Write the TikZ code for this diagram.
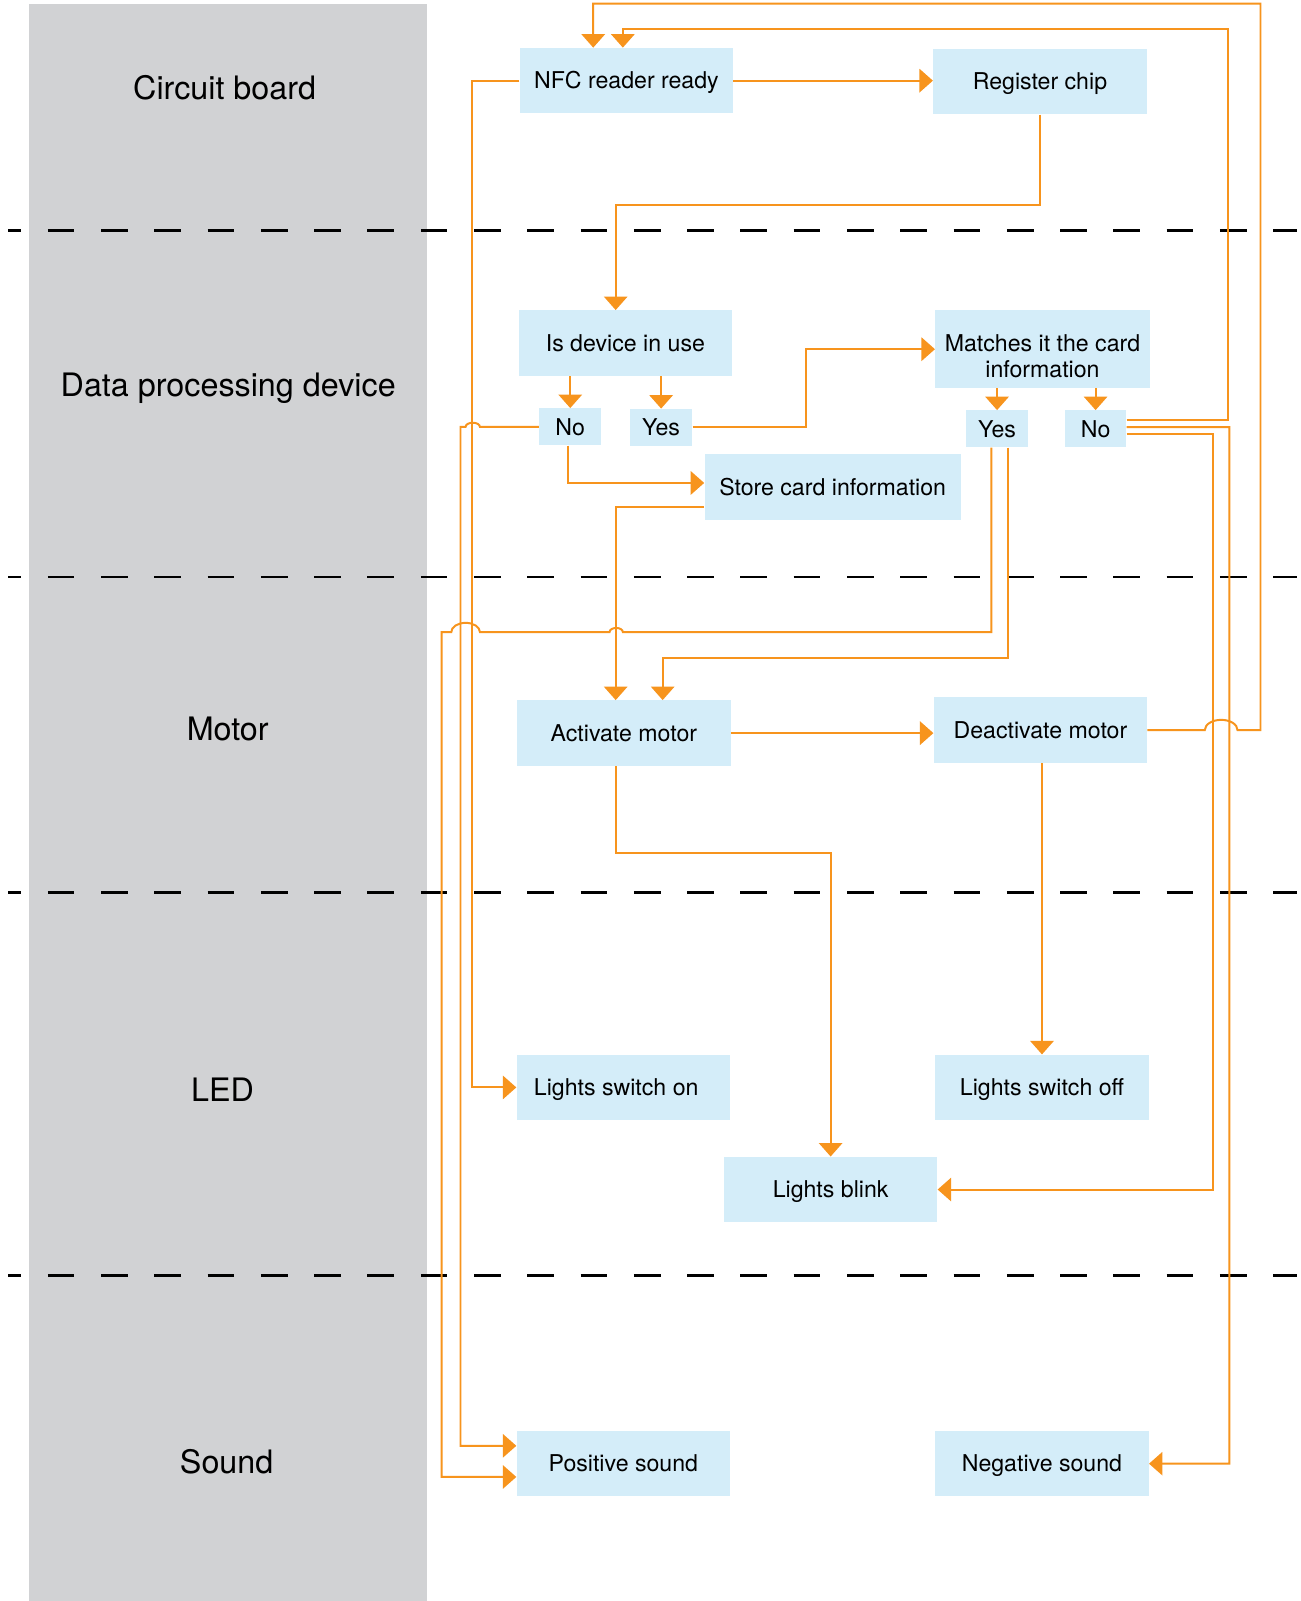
\documentclass[tikz,border=0pt]{standalone}
\usepackage{fontspec}
\setmainfont{TeX Gyre Heros}
\usetikzlibrary{arrows.meta,calc}

\definecolor{lanegray}{HTML}{D1D2D4}
\definecolor{boxblue}{HTML}{D4EDF9}
\definecolor{flowline}{HTML}{F7941D}

\begin{document}
\begin{tikzpicture}[
    x=0.02cm, y=-0.02cm,
    panel/.style={rectangle, fill=boxblue, inner sep=0pt, align=center, minimum width=4.18cm, minimum height=1.28cm, font=\fontsize{12.9}{14.7}\selectfont},
    box/.style={panel, text height=9.26pt, text depth=0pt},
    answer/.style={box, minimum width=1.22cm, minimum height=0.72cm},
    lane/.style={font=\fontsize{18}{21}\selectfont, text height=12.9pt, text depth=0pt},
    arrow/.style={-{Triangle[width=13pt,length=7.5pt]}, line width=1.1pt, color=flowline},
    separator/.style={line width=1.5pt, dash pattern=on 14.85pt off 14.85pt, dash phase=7.6pt}
]

% Fundo e faixa das camadas
\fill[white] (0,0) rectangle (1274,1568);
\fill[lanegray] (28.4,4) rectangle (418,1568);
\foreach \y in {226,565,874,1249}
    \draw[separator] (8,\y) -- (1270,\y);

% Nomes das camadas
\node[lane] (circuit) at (220,86) {Circuit board};
\node[lane] (data) at (223.5,377) {Data processing device};
\node[lane] (motor) at (223,714) {Motor};
\node[lane] (led) at (218,1067) {LED};
\node[lane] (sound) at (222,1432) {Sound};

% Linha 1: placa
\node[box] (nfc) at (613.5,79) {NFC reader ready};
\node[box] (reg) at (1018.5,80) {Register chip};

% Linha 2: processamento
\node[box] (inuse) at (612.5,336) {Is device in use};
\node[panel, minimum width=4.2cm, minimum height=1.52cm] (match) at (1021,342) {\rule{0pt}{17pt}Matches it the card\\information};
\node[answer] (noA) at (558.5,418) {No};
\node[answer] (yesA) at (647.5,418.5) {Yes};
\node[answer] (yesB) at (976.5,420) {Yes};
\node[answer, minimum width=1.2cm] (noB) at (1073,420) {No};
\node[box, minimum width=5.02cm] (store) at (815.5,477) {Store card information};

% Linha 3: motor
\node[box] (act) at (611,718) {Activate motor};
\node[box] (deact) at (1019,715) {Deactivate motor};

% Linha 4: LED
\node[box] (lon) at (610.5,1065) {\hspace*{-0.28cm}Lights switch on};
\node[box] (loff) at (1020.5,1065) {Lights switch off};
\node[box] (blink) at (813.5,1165) {Lights blink};

% Linha 5: som
\node[box] (pos) at (610.5,1433.5) {Positive sound};
\node[box] (neg) at (1020.5,1433.5) {Negative sound};

% Setas da placa
\draw[arrow] (nfc.east) -- (nfc.east -| reg.west);
\draw[arrow] (reg.south) |- ($(inuse.north)+(-9.5,-103)$) -- ($(inuse.north)+(-9.5,0)$);
\draw[arrow] (nfc.west) -- ++(-46,0) |- (lon.west);

% Setas do processamento
\draw[arrow] (inuse.south -| noA.north) -- (noA.north);
\draw[arrow] (inuse.south -| yesA.north) -- (yesA.north);
\draw[arrow] (match.south -| yesB.north) -- (yesB.north);
\draw[arrow] (match.south -| noB.north) -- (noB.north);
\draw[arrow] (yesA.east) -- ++(111,0) |- (match.west);
\draw[arrow] ($(noA.south)+(-2,0)$) |- ($(store.west)+(0,-4)$);
\draw[arrow] (noA.west) -- (470,418) arc[start angle=0, end angle=-180, x radius=7, y radius=4] -- (451,418) |- ($(pos.west)+(0,-17.5)$);
\draw[arrow] ($(store.west)+(0,20)$) -| ($(act.north)+(-8,0)$);
\draw[arrow] ($(yesB.south)+(-5.5,0)$) |- (610,619) arc[start angle=0, end angle=-180, x radius=6.5, y radius=4] -- (470,619) arc[start angle=0, end angle=-180, x radius=14, y radius=9] -- (432.5,619) |- ($(pos.west)+(0,13)$);
\draw[arrow] ($(yesB.south)+(10.5,0)$) |- ($(act.north)+(38,-41)$) -- ($(act.north)+(38,0)$);
\draw[arrow] ($(noB.east)+(0,-8.7)$) -| (1203,28) -| ($(nfc.north)+(-3.5,0)$);
\draw[arrow] ($(noB.east)+(0,-1.6)$) -- (1204,418.4) |- (neg.east);
\draw[arrow] ($(noB.east)+(0,5)$) -- (1188,425) |- (blink.east);

% Setas do motor
\draw[arrow] (act.east) -- (act.east -| deact.west);
\draw[arrow] (deact.east) -- (1180,715) arc[start angle=180, end angle=360, x radius=16, y radius=10] -- (1234.5,715) |- ($(nfc.north)+(-32.5,-43)$) -- ($(nfc.north)+(-32.5,0)$);
\draw[arrow] ($(act.south)+(-8,0)$) |- ($(blink.north)+(0,-297)$) -- (blink.north);
\draw[arrow] (deact.south -| loff.north) -- (loff.north);

\end{tikzpicture}
\end{document}
